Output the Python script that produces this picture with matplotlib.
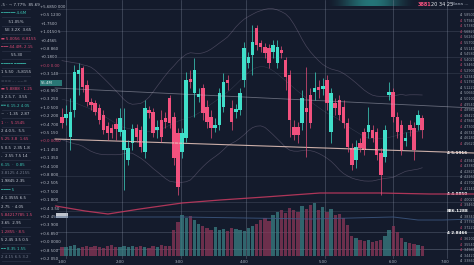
import numpy as np
import pandas as pd
import matplotlib
matplotlib.use("Agg")
import matplotlib.pyplot as plt

# ---------------- data ----------------
opens = [48.3, 48.2, 46.3, 49.0, 52.6, 53.2, 51.5, 49.8, 49.7, 49.2,
         48.5, 47.4, 47.2, 47.6, 46.8, 45.0, 44.0, 45.7, 47.2, 47.0,
         44.8, 49.0, 48.8, 47.0, 48.0, 48.2, 50.2, 48.3, 46.7, 44.8,
         46.2, 52.0, 50.7, 50.3, 51.2, 49.3, 48.3, 47.2, 47.5, 49.3,
         52.0, 49.2, 48.8, 49.0, 52.0, 53.7, 54.5, 57.2, 55.7, 55.3,
         55.2, 54.8, 53.7, 55.0, 54.0, 52.5, 47.3, 47.3, 47.7, 49.2,
         50.5, 50.8, 51.3, 51.1, 52.0, 46.8, 49.7, 50.0, 49.3, 47.7,
         45.2, 44.0, 45.7, 46.8, 46.8, 47.0, 46.8, 44.7, 44.3, 50.5,
         50.8, 48.3, 47.5, 45.9, 47.5, 47.2, 47.5, 48.2]
highs = [49.2, 49.5, 50.2, 53.5, 53.7, 53.4, 52.0, 50.2, 50.0, 49.6,
         49.0, 47.8, 47.6, 48.2, 49.2, 49.2, 46.0, 47.6, 47.6, 47.4,
         50.0, 49.4, 49.2, 48.0, 49.0, 48.8, 50.5, 48.8, 47.2, 47.2,
         52.8, 53.0, 54.2, 51.2, 51.6, 50.0, 49.0, 48.2, 51.2, 52.7,
         52.5, 50.0, 49.6, 51.2, 55.8, 54.8, 57.5, 57.5, 56.0, 55.7,
         55.6, 56.0, 56.0, 55.4, 54.3, 53.0, 48.0, 47.8, 51.0, 53.3,
         51.2, 52.8, 52.0, 52.2, 52.5, 51.2, 50.2, 50.5, 50.0, 48.2,
         45.7, 46.0, 46.2, 47.2, 49.3, 47.5, 47.2, 45.2, 47.5, 51.8,
         51.2, 48.8, 48.0, 46.8, 48.0, 47.8, 49.0, 48.5]
lows = [47.2, 47.5, 45.0, 48.3, 50.5, 50.8, 49.4, 49.0, 48.5, 47.6,
        46.6, 46.0, 46.2, 46.0, 46.4, 41.0, 43.5, 45.0, 45.8, 44.8,
        44.2, 48.2, 46.3, 46.2, 45.8, 47.2, 47.2, 43.5, 40.5, 44.2,
        45.8, 51.2, 48.3, 49.8, 48.0, 47.2, 46.2, 46.8, 47.0, 48.8,
        51.0, 47.0, 48.2, 48.5, 51.3, 53.2, 52.5, 55.0, 54.8, 54.2,
        53.2, 54.2, 53.2, 54.2, 51.0, 46.3, 46.0, 45.7, 47.0, 44.3,
        47.2, 50.0, 50.2, 50.5, 49.0, 45.7, 48.5, 48.0, 47.2, 44.8,
        43.0, 43.2, 44.8, 44.5, 46.2, 45.8, 44.0, 40.5, 43.8, 50.0,
        47.8, 46.2, 44.5, 45.4, 46.4, 44.0, 47.0, 46.2]
closes = [47.7, 48.6, 48.8, 52.8, 53.0, 51.3, 49.8, 49.5, 48.8, 48.0,
          47.0, 46.7, 46.7, 47.1, 48.2, 47.0, 45.2, 47.1, 46.3, 45.3,
          49.2, 48.7, 46.7, 47.3, 46.3, 47.8, 47.7, 44.2, 41.3, 46.7,
          52.0, 51.8, 53.0, 50.5, 48.7, 47.8, 47.2, 47.5, 50.7, 51.8,
          51.7, 47.8, 49.0, 50.7, 55.2, 54.3, 55.8, 55.5, 55.3, 54.7,
          53.7, 55.5, 55.3, 54.7, 52.3, 48.0, 46.5, 46.5, 50.2, 48.8,
          47.7, 51.2, 51.0, 51.4, 49.7, 50.7, 49.2, 48.5, 47.7, 45.3,
          43.5, 45.3, 45.2, 45.0, 47.5, 46.2, 44.5, 42.5, 47.0, 50.7,
          48.3, 46.8, 45.0, 46.2, 47.0, 45.0, 48.5, 47.0]
volumes = [95, 90, 100, 110, 85, 95, 105, 90, 100, 95,
           85, 100, 110, 95, 90, 100, 95, 105, 90, 100,
           95, 85, 100, 95, 110, 100, 105, 260, 340, 410,
           380, 400, 360, 320, 300, 280, 260, 290, 260, 270,
           250, 280, 270, 260, 250, 280, 300, 320, 360, 380,
           350, 410, 440, 460, 430, 480, 460, 440, 500, 470,
           510, 530, 460, 490, 440, 470, 410, 420, 380, 310,
           200, 180, 160, 150, 160, 140, 150, 160, 200, 260,
           300, 240, 180, 140, 130, 120, 110, 100]

# long moving average (lower pink line) and slow line (blue-gray)
ma_idx = [-1.5, 5.6, 11.1, 18.8, 29.0, 38.2, 49.0, 62.3, 76.8, 88.9, 99.5]
ma_vals = [39.4, 38.9, 38.6, 39.1, 39.7, 40.0, 40.3, 40.7, 40.7, 40.6, 40.6]
slow_idx = [-1.7, 29.0, 60.0, 80.0, 86.0, 92.0, 99.5]
slow_vals = [38.3, 38.3, 38.1, 38.3, 38.0, 38.0, 38.1]
# trend lines (start, end)
support_vals = [46.1, 44.7]
resist_vals = [51.2, 49.2]

time_labels = ["1:00", "2:00", "3:00", "4:00", "5:00", "6:00", "7:00"]
title_parts = ["3881", "20 34 25", "Bana ..."]

left_texts = [
    "-5 \u00b7 \u00ac 7.77%  85.69", "\u2501\u2501\u2501\u2501\u2501\u2501 4.6M", "      51.05%",
    "   5E 3.2X  3.65", "\u25ac 5.0056  6.8155", "\u2501\u2501\u2501 44.4M, 2.15",
    "        55.30", "\u2501\u2501\u2501\u2501\u2501 \u2501\u2501\u2501\u2501\u2501",
    "1 5.50  -5,8155", "=== - . ----=", "\u25ac 5.8888 \u00b7 1.25", "3 2.5.7.  3.55",
    "\u2550\u2550 6 15.2 4.05", "~  \u00b7 1.35  2.87", "1 \u00b7 \u00b7  5.1545", "2 4.0.5.  5.5",
    "5.25 3.8  1.65", "5 0.5  2.35 1.8", "-  2.55 7.5 14", "6.15  \u00b7  0.85",
    "3.8125 4.2155", "1.9845 2.35", "\u2501\u2501\u2501\u2501 5", "4 1.3555 6.5",
    "2.75  \u00b7 4.05", "5.84217785 1.5", "3.65  2.95", "1.2855 \u00b7 8.5",
    "5 2.45 3.5 0.5", "\u2501\u2501 8.35 1.55", "2 4.15 6.5 3.2",
]
left_colors = ["W", "T", "W", "W", "P", "P", "W", "T", "W", "G", "P", "W",
               "T", "W", "P", "W", "P", "W", "W", "T", "G", "W", "T", "W",
               "W", "P", "W", "P", "W", "T", "G"]
quote_texts = ["+5.6850 000", "+0.5 1230", "+1.7500", "+1.0150 5", "+0.4565",
               "+0.8 860", "+0.1800", "+0.0 0.00", "+0.3 140", "55.4M",
               "+0.6 950", "+0.3 250", "+1.0 500", "+0.2 200", "+0.4 700",
               "+0.5 150", "+0.0 0050", "+1.1 450", "+0.1 350", "+0.4 100",
               "+0.8 800", "+0.2 505", "+0.7 500", "+0.1 800", "+0.4 3.50",
               "+0.2 450", "+0.3 900", "+0.6 850", "+0.0 0000", "+0.8 500", "+0.2 050"]
quote_colors = ["W", "W", "W", "W", "W", "W", "W", "P", "W", "B",
                "W", "W", "W", "W", "W", "W", "P", "W", "W", "W",
                "W", "W", "W", "W", "W", "W", "W", "W", "W", "W", "W"]
hi_labels = ["4 5.1916", "4 4.8850", "886.1288", "4 2.8466"]

# ---------------- style ----------------
BG = "#141b2c"
TEAL = "#40dfca"
PINK = "#f2517e"
CMAP = {"W": "#d5dae4", "T": "#3fd6c2", "P": "#ee4f7b", "G": "#7b8396", "B": "#ffffff"}
W_PX, H_PX = 474, 265
X0_PX, STEP_PX = 62.0, 4.14

fig = plt.figure(figsize=(4.74, 2.65), dpi=100)
fig.patch.set_facecolor(BG)

# background / decoration canvas in pixel coordinates
bg = fig.add_axes([0, 0, 1, 1])
bg.set_xlim(0, W_PX)
bg.set_ylim(H_PX, 0)
bg.axis("off")
bg.set_facecolor(BG)
bg.set_zorder(0)

# vertical grid
for xv in [66, 122, 181, 246, 325, 393, 447]:
    bg.plot([xv, xv], [0, 258], color="#8a93a8", lw=0.5, alpha=0.45)
# horizontal faint grid
for yv, a in [(9, 0.25), (31, 0.25), (57, 0.22), (73, 0.2), (176, 0.2), (202, 0.25),
              (211, 0.2), (232, 0.35), (249, 0.45)]:
    bg.plot([57, 474], [yv, yv], color="#9aa3b8", lw=0.5, alpha=a)

# top glow
glow = np.zeros((1, 120, 4))
glow[..., 0], glow[..., 1], glow[..., 2] = 0.2, 0.75, 0.72
glow[..., 3] = np.sin(np.linspace(0, np.pi, 120)) ** 2 * 0.55
bg.imshow(glow, extent=[325, 418, 6, 0], aspect="auto", zorder=1)
bg.text(418, 4, title_parts[0], color=PINK, fontsize=3.6, va="center", ha="left", fontweight="bold")
bg.text(431, 4, title_parts[1], color="#e6e9ef", fontsize=3.6, va="center", ha="left")
bg.text(452, 4, title_parts[2], color="#aab2c0", fontsize=3.2, va="center", ha="left")

# left panel
for k, (t, c) in enumerate(zip(left_texts, left_colors)):
    bg.text(1, 5 + 8.4 * k, t, color=CMAP[c], fontsize=2.9, va="center", ha="left",
            alpha=0.9, clip_on=True)
    bg.plot([2, 30], [9 + 8.4 * k, 9 + 8.4 * k], color="#58607a", lw=0.5, alpha=0.35)
for k, (t, c) in enumerate(zip(quote_texts, quote_colors)):
    y = 7 + 8.4 * k
    if c == "B":
        bg.add_patch(plt.Rectangle((40, y - 3), 22, 6, color="#2f8f88", alpha=0.8, lw=0))
    bg.text(40.5, y, t, color=CMAP[c], fontsize=2.8, va="center", ha="left", alpha=0.85)
bg.add_patch(plt.Rectangle((56, 212.5), 12, 5, color="#dfe3ea", alpha=0.85, lw=0))

# right labels
hi_y = [153, 194, 211, 233]
for yv in np.arange(15, 262, 5.6):
    if any(abs(yv - h) < 4 for h in hi_y):
        continue
    price = 60 - yv / 10
    mk = PINK if int(yv) % 3 else "#d5dae4"
    bg.text(460, yv, "4", color=mk, fontsize=2.4, va="center", ha="left", alpha=0.9)
    bg.text(463.5, yv, f"{price * 0.1:.4f}", color="#b9c0cc", fontsize=2.4, va="center",
            ha="left", alpha=0.8)
for yv, t in zip(hi_y, hi_labels):
    bg.text(447, yv, t, color="#ffffff", fontsize=3.0, va="center", ha="left", fontweight="bold")

# bottom time labels
for xv, t in zip([62, 120, 179, 244, 323, 393, 445], time_labels):
    bg.text(xv, 262, t, color="#aab2c0", fontsize=2.8, va="center", ha="center")

# ---------------- price axes ----------------
n = len(closes)
assert len(opens) == len(highs) == len(lows) == n == len(volumes)
idx = np.arange(n)
xl = ((0 - X0_PX) / STEP_PX, (W_PX - X0_PX) / STEP_PX)

ax = fig.add_axes([0, 0, 1, 1])
ax.set_xlim(*xl)
ax.set_ylim(60 - H_PX / 10, 60)
ax.axis("off")
ax.patch.set_alpha(0)
ax.set_zorder(2)

o = np.array(opens); c = np.array(closes); h = np.array(highs); l = np.array(lows)
up = c >= o
cols = np.where(up, TEAL, PINK)

# smooth envelope bands derived from the data
s = pd.Series(c)
mid = s.rolling(14, center=True, min_periods=4).mean()
sd = s.rolling(14, center=True, min_periods=4).std()
up_b = (mid + 2.0 * sd).rolling(9, center=True, min_periods=1).mean()
lo_b = (mid - 2.0 * sd).rolling(9, center=True, min_periods=1).mean()
ax.plot(idx, up_b, color="#a592b0", lw=0.5, alpha=0.35)
ax.plot(idx, lo_b, color="#a592b0", lw=0.5, alpha=0.35)
ax.plot(idx, mid.rolling(7, center=True, min_periods=1).mean(), color="#8a8fa8", lw=0.4, alpha=0.25)

ax.plot(ma_idx, ma_vals, color="#c0395e", lw=0.9, alpha=0.9)
ax.plot(slow_idx, slow_vals, color="#3f5b86", lw=0.7, alpha=0.8)
ax.plot([xl[0] + 13.3, xl[1]], support_vals, color="#ecc9bf", lw=0.8, alpha=0.85)
ax.plot([xl[0] + 13.3, xl[1]], resist_vals, color="#c9c9d8", lw=0.6, alpha=0.45)

ax.vlines(idx, l, h, colors=cols, lw=0.6, alpha=0.8)
body_lo = np.minimum(o, c)
body_h = np.maximum(np.abs(c - o), 0.3)
ax.bar(idx, body_h, bottom=body_lo, width=0.85, color=cols, lw=0)

# ---------------- volume axes ----------------
axv = fig.add_axes([0, 9 / H_PX, 1, 80 / H_PX])
axv.set_xlim(*xl)
axv.set_ylim(0, 800)
axv.axis("off")
axv.patch.set_alpha(0)
axv.set_zorder(1)
vcols = np.where(up, "#3a7f84", "#8a3658")
axv.bar(idx, volumes, width=0.8, color=vcols, alpha=0.75, lw=0)

fig.savefig("out.png", dpi=100, facecolor=BG)
